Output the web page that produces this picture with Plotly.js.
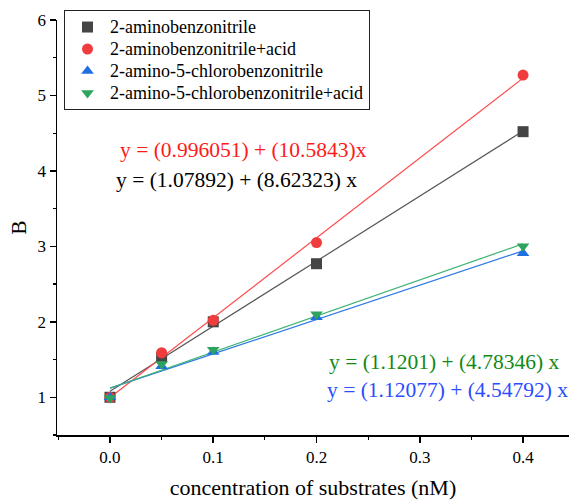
<!DOCTYPE html>
<html>
<head>
<meta charset="utf-8">
<script src="https://cdn.plot.ly/plotly-3.0.1.min.js"></script>
<style>html,body{margin:0;padding:0;background:#fff;}#chart{width:569px;height:500px;}</style>
</head>
<body>
<div id="chart"></div>
<script>
// Data
const seriesNames = ["2-aminobenzonitrile", "2-aminobenzonitrile+acid", "2-amino-5-chlorobenzonitrile", "2-amino-5-chlorobenzonitrile+acid"];
const concentration = [0, 0.05, 0.1, 0.2, 0.4];
const bAmino = [1.0, 1.53, 2.0, 2.77, 4.52];
const bAminoAcid = [1.0, 1.59, 2.02, 3.05, 5.27];
const bChloro = [1.0, 1.41, 1.60, 2.06, 2.91];
const bChloroAcid = [0.99, 1.44, 1.63, 2.10, 3.00];
// Linear fit coefficients shown on the chart
const fitIntercepts = [1.07892, 0.996051, 1.12077, 1.1201];
const fitSlopes = [8.62323, 10.5843, 4.54792, 4.78346];
const fitRange = [0, 0.4];
const fitLabels = ["y = (1.07892) + (8.62323) x", "y = (0.996051) + (10.5843)x", "y = (1.12077) + (4.54792) x", "y = (1.1201) + (4.78346) x"];
const xTickVals = [0, 0.1, 0.2, 0.3, 0.4];
const xTickText = ["0.0", "0.1", "0.2", "0.3", "0.4"];
const yTickVals = [1, 2, 3, 4, 5, 6];

const values = [bAmino, bAminoAcid, bChloro, bChloroAcid];
const markerColors = ["#454545", "#f03c3c", "#1f6fe0", "#2ca35e"];
const lineColors = ["#555555", "#ff4a4a", "#2a78e4", "#3cb371"];
const symbols = ["square", "circle", "triangle-up", "triangle-down"];
const textColors = ["#000000", "#ff1a1a", "#2b4cff", "#138a13"];

const traces = [];
for (let i = 0; i < 4; i++) {
  traces.push({
    x: fitRange,
    y: fitRange.map(v => fitIntercepts[i] + fitSlopes[i] * v),
    mode: "lines", line: {color: lineColors[i], width: 1.2},
    showlegend: false, hoverinfo: "skip"
  });
}
for (let i = 0; i < 4; i++) {
  traces.push({
    x: concentration, y: values[i],
    name: '<span style="font-size:18px">' + seriesNames[i] + '</span>',
    mode: "markers",
    marker: {symbol: symbols[i], size: 11, color: markerColors[i]}
  });
}

const font = "Liberation Serif, Times New Roman, serif";
const annPos = [
  {x: 0.004, y: 3.878},
  {x: 0.0078, y: 4.276},
  {x: 0.208, y: 1.093},
  {x: 0.2098, y: 1.468}
];
const annotations = annPos.map((p, i) => ({
  x: p.x, y: p.y, xref: "x", yref: "y", text: fitLabels[i], showarrow: false,
  xanchor: "left", yanchor: "middle",
  font: {family: font, size: 21.5, color: textColors[i]}
}));

const layout = {
  width: 569, height: 500,
  margin: {l: 57, r: 0, t: 20, b: 65},
  paper_bgcolor: "#fff", plot_bgcolor: "#fff",
  font: {family: font, size: 17, color: "#000"},
  showlegend: true,
  legend: {
    x: 0.0137, y: 1.024, xanchor: "left", yanchor: "top",
    bordercolor: "#222", borderwidth: 1, bgcolor: "rgba(255,255,255,0)",
    font: {family: font, size: 14.6, color: "#000"},
    itemwidth: 35,
    tracegroupgap: 0
  },
  xaxis: {
    range: [-0.0513, 0.4445], showgrid: false, zeroline: false,
    showline: true, linecolor: "#000", linewidth: 1.5,
    ticks: "outside", ticklen: 6, tickwidth: 1.5, tickcolor: "#000",
    tickvals: xTickVals, ticktext: xTickText,
    minor: {dtick: 0.05, tick0: 0, ticks: "outside", ticklen: 3, tickwidth: 1.2, tickcolor: "#000", showgrid: false},
    tickfont: {family: font, size: 17},
    title: {text: "concentration of substrates (nM)", font: {family: font, size: 22}, standoff: 24}
  },
  yaxis: {
    range: [0.5, 6.0], showgrid: false, zeroline: false,
    showline: true, linecolor: "#000", linewidth: 1.5,
    ticks: "outside", ticklen: 6, tickwidth: 1.5, tickcolor: "#000",
    tickvals: yTickVals,
    minor: {dtick: 0.5, tick0: 0, ticks: "outside", ticklen: 3, tickwidth: 1.2, tickcolor: "#000", showgrid: false},
    tickfont: {family: font, size: 17},
    title: {text: "B", font: {family: font, size: 21}, standoff: 5}
  },
  annotations: annotations
};

Plotly.newPlot("chart", traces, layout, {displayModeBar: false, staticPlot: true});
</script>
</body>
</html>
